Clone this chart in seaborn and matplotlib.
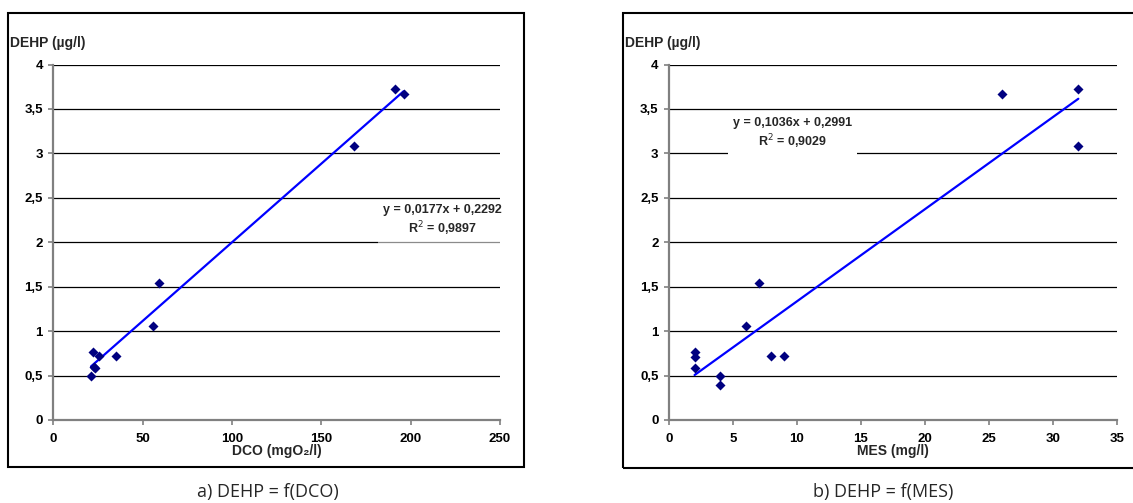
import matplotlib
matplotlib.use("Agg")
import matplotlib.pyplot as plt
import seaborn as sns
import numpy as np
import pandas as pd
from matplotlib.patches import Rectangle

# ---------------- data ----------------
dco = [191.4, 196.0, 168.2, 59.0, 56.0, 22.4, 25.7, 35.0, 22.6, 23.3, 21.1]
dehp_a = [3.72, 3.67, 3.08, 1.54, 1.06, 0.76, 0.72, 0.72, 0.60, 0.58, 0.50]

mes = [32, 26, 32, 7, 6, 2, 2, 2, 8, 9, 4, 4]
dehp_b = [3.72, 3.67, 3.08, 1.54, 1.06, 0.76, 0.71, 0.58, 0.72, 0.72, 0.50, 0.39]

slope_a, intercept_a = 0.0177, 0.2292
slope_b, intercept_b = 0.1036, 0.2991

eq_a = ["y = 0,0177x + 0,2292", "R$^2$ = 0,9897"]
eq_b = ["y = 0,1036x + 0,2991", "R$^2$ = 0,9029"]

y_ticks = [0, 0.5, 1, 1.5, 2, 2.5, 3, 3.5, 4]
y_ticklabels = ["0", "0,5", "1", "1,5", "2", "2,5", "3", "3,5", "4"]
xa_ticks = [0, 50, 100, 150, 200, 250]
xb_ticks = [0, 5, 10, 15, 20, 25, 30, 35]

ylabel = "DEHP (µg/l)"
xlabel_a = "DCO (mgO₂/l)"
xlabel_b = "MES (mg/l)"
caption_a = "a) DEHP = f(DCO)"
caption_b = "b) DEHP = f(MES)"

# ---------------- style ----------------
sns.set_theme(style="white")
plt.rcParams["font.family"] = ["Liberation Sans", "DejaVu Sans"]

W, H = 1133, 503
fig = plt.figure(figsize=(W / 100, H / 100), dpi=100)

def fx(px):
    return px / W

def fy(py):
    return 1 - py / H

ax_bottom = fy(420)
ax_h = fy(64.5) - ax_bottom
axA = fig.add_axes([fx(53.3), ax_bottom, fx(500) - fx(53.3), ax_h])
axB = fig.add_axes([fx(669), ax_bottom, fx(1116.7) - fx(669), ax_h])

# outer frames
fig.patches.append(Rectangle((fx(7.5), fy(467)), fx(524) - fx(7.5), fy(12.7) - fy(467),
                             transform=fig.transFigure, fill=False, edgecolor="black",
                             linewidth=1.5, zorder=0))
fig.patches.append(Rectangle((fx(622.7), fy(467.5)), fx(1145) - fx(622.7), fy(12.7) - fy(467.5),
                             transform=fig.transFigure, fill=False, edgecolor="black",
                             linewidth=1.5, zorder=0))

def style_axis(ax, xticks, xmax, xlabel):
    ax.set_xlim(0, xmax)
    ax.set_ylim(0, 4)
    ax.set_yticks(y_ticks)
    ax.set_yticklabels(y_ticklabels)
    ax.set_xticks(xticks)
    ax.set_xticklabels([str(t) for t in xticks])
    for t in y_ticks[1:]:
        ax.axhline(t, color="black", linewidth=0.9, zorder=1)
    for s in ["top", "right"]:
        ax.spines[s].set_visible(False)
    for s in ["left", "bottom"]:
        ax.spines[s].set_color("#808080")
        ax.spines[s].set_linewidth(1.6)
    ax.tick_params(axis="both", direction="out", length=3.5, width=1.2, color="#808080",
                   labelsize=9.5, labelcolor="black")
    ax.tick_params(axis="x", pad=5.5, bottom=True)
    ax.tick_params(axis="y", pad=4, left=True)
    for lab in ax.get_xticklabels() + ax.get_yticklabels():
        lab.set_fontweight("bold")
    ax.set_xlabel(xlabel, fontsize=10, fontweight="bold", labelpad=0)
    ax.set_ylabel("")
    ax.patch.set_alpha(0)

# ---- chart a ----
dfa = pd.DataFrame({"x": dco, "y": dehp_a})
xa_line = np.array([min(dco), max(dco)])
sns.lineplot(x=xa_line, y=slope_a * xa_line + intercept_a, ax=axA, color="#0000FF",
             linewidth=1.6, zorder=3)
sns.scatterplot(data=dfa, x="x", y="y", ax=axA, marker="D", s=26, color="#000080",
                edgecolor="#000080", linewidth=0, zorder=4)
style_axis(axA, xa_ticks, 250, xlabel_a)
axA.add_patch(Rectangle((182, 1.97), 68, 0.51, facecolor="white", edgecolor="none",
                        alpha=0.55, zorder=2))
axA.text(218, 2.36, eq_a[0], ha="center", va="center", fontsize=9, fontweight="bold", zorder=5)
axA.text(218, 2.15, eq_a[1], ha="center", va="center", fontsize=9, fontweight="bold", zorder=5)

# ---- chart b ----
dfb = pd.DataFrame({"x": mes, "y": dehp_b})
xb_line = np.array([min(mes), max(mes)])
sns.lineplot(x=xb_line, y=slope_b * xb_line + intercept_b, ax=axB, color="#0000FF",
             linewidth=1.6, zorder=3)
sns.scatterplot(data=dfb, x="x", y="y", ax=axB, marker="D", s=26, color="#000080",
                edgecolor="#000080", linewidth=0, zorder=4)
style_axis(axB, xb_ticks, 35, xlabel_b)
axB.add_patch(Rectangle((4.6, 2.95), 10.1, 0.5, facecolor="white", edgecolor="none", zorder=2))
axB.text(9.65, 3.34, eq_b[0], ha="center", va="center", fontsize=9, fontweight="bold", zorder=5)
axB.text(9.65, 3.13, eq_b[1], ha="center", va="center", fontsize=9, fontweight="bold", zorder=5)

# y-axis titles
fig.text(fx(10), fy(43), ylabel, ha="left", va="center", fontsize=10, fontweight="bold")
fig.text(fx(625), fy(43), ylabel, ha="left", va="center", fontsize=10, fontweight="bold")

# captions
fig.text(fx(268), fy(492), caption_a, ha="center", va="center", fontsize=13,
         family=["Open Sans", "DejaVu Sans"])
fig.text(fx(883), fy(492), caption_b, ha="center", va="center", fontsize=13,
         family=["Open Sans", "DejaVu Sans"])

fig.savefig("out.png", dpi=100)
